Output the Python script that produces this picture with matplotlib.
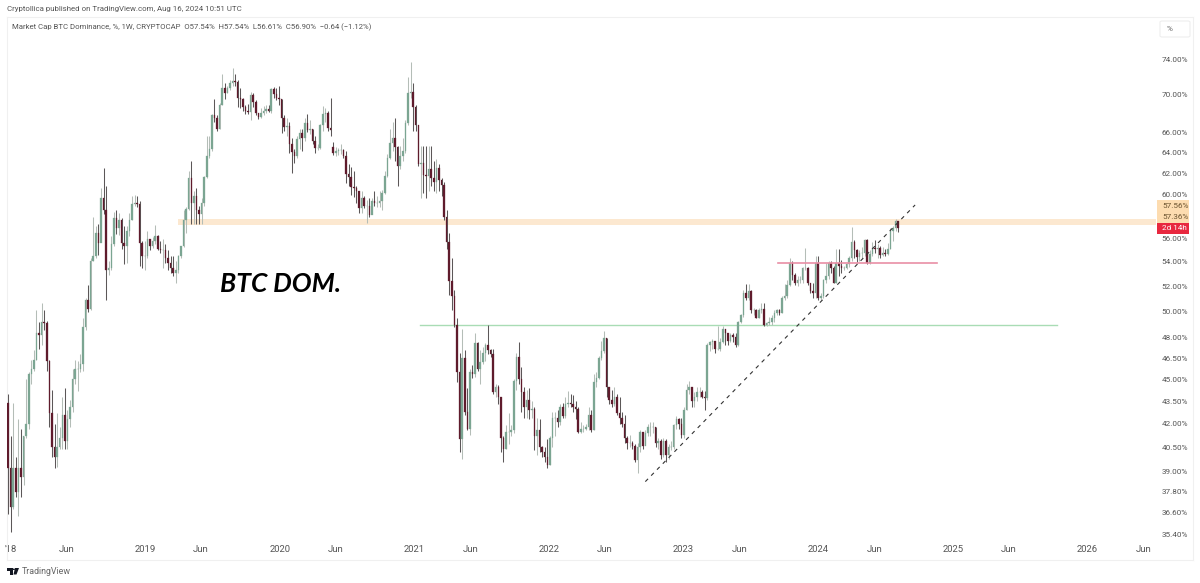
import pandas as pd
import numpy as np
import matplotlib
matplotlib.use('Agg')
import matplotlib.pyplot as plt
import matplotlib.dates as mdates
from matplotlib.patches import Rectangle, FancyBboxPatch, Polygon, Circle
from matplotlib.ticker import FixedLocator, FixedFormatter, NullLocator

# Weekly candles, one value per week from 2017-12-25
first_open = 43.4
gap_opens = {126: 64.6}
closes = [
    39.2, 36.9, 39.2, 37.8, 39.2, 38.7, 41.2, 42.0, 45.4, 45.7,
    46.4, 48.4, 48.2, 49.2, 49.1, 46.3, 42.7, 40.5, 39.9, 40.5,
    41.1, 42.6, 40.9, 42.3, 43.1, 45.0, 45.7, 45.7, 46.1, 48.8,
    50.9, 50.2, 54.1, 54.5, 56.5, 55.6, 59.6, 58.5, 53.3, 53.5,
    55.5, 57.8, 56.9, 57.6, 55.6, 55.4, 56.7, 57.6, 59.1, 59.2,
    59.1, 55.6, 54.5, 54.5, 56.0, 55.4, 55.8, 56.2, 55.1, 55.0,
    55.0, 54.3, 53.9, 53.5, 53.1, 53.3, 54.5, 55.4, 57.6, 58.6,
    61.5, 59.2, 59.8, 58.5, 58.2, 59.2, 61.6, 63.7, 64.4, 67.8,
    67.5, 66.4, 68.9, 70.7, 70.2, 70.7, 71.3, 71.5, 71.4, 69.7,
    69.6, 68.7, 68.3, 68.2, 70.0, 69.2, 68.1, 67.6, 68.1, 68.3,
    68.5, 68.3, 70.6, 70.1, 69.7, 69.5, 67.5, 66.6, 66.7, 64.9,
    64.1, 63.7, 65.4, 66.0, 65.5, 67.0, 66.3, 66.4, 65.2, 64.5,
    64.5, 66.8, 68.0, 68.1, 66.5, 66.3, 64.0, 64.2, 64.3, 64.3,
    63.7, 61.9, 61.6, 60.7, 60.6, 60.3, 58.7, 59.6, 58.9, 58.9,
    58.1, 59.4, 59.2, 59.2, 59.4, 60.1, 61.7, 63.5, 65.0, 65.5,
    64.6, 62.7, 63.7, 64.2, 67.0, 70.2, 70.3, 68.7, 66.8, 62.9,
    63.0, 61.8, 61.7, 62.4, 61.5, 61.1, 62.5, 61.3, 60.9, 57.9,
    55.7, 52.4, 51.2, 49.0, 45.5, 41.0, 46.5, 42.8, 41.7, 45.5,
    45.4, 47.6, 45.7, 46.2, 46.9, 47.5, 47.1, 46.8, 44.1, 44.5,
    43.8, 41.1, 40.4, 41.5, 41.5, 41.6, 44.9, 46.6, 45.0, 44.1,
    43.1, 43.6, 42.9, 43.0, 41.2, 41.6, 40.5, 40.2, 39.9, 39.4,
    41.1, 42.4, 42.4, 42.1, 43.1, 42.5, 43.3, 43.4, 43.3, 43.1,
    43.0, 41.5, 41.7, 41.7, 41.8, 42.6, 41.6, 44.8, 45.1, 46.5,
    47.0, 48.0, 44.5, 43.6, 43.3, 43.8, 42.7, 42.4, 42.0, 41.1,
    40.8, 40.8, 40.6, 39.7, 40.5, 41.5, 40.6, 41.4, 41.8, 41.8,
    41.8, 40.8, 40.9, 40.0, 40.9, 40.0, 40.5, 40.5, 41.9, 42.3,
    42.0, 41.3, 42.9, 44.3, 44.5, 43.5, 43.8, 44.1, 44.1, 43.8,
    43.7, 47.5, 47.7, 47.8, 47.2, 47.2, 47.7, 48.7, 48.4, 47.8,
    48.2, 48.1, 47.5, 49.2, 49.7, 51.5, 51.1, 51.6, 50.1, 50.1,
    49.5, 50.1, 50.2, 49.0, 49.1, 49.2, 49.5, 49.9, 50.1, 49.9,
    51.1, 51.2, 52.1, 53.9, 52.9, 52.3, 52.5, 52.5, 53.5, 53.5,
    52.3, 51.6, 51.5, 53.9, 51.1, 51.2, 52.5, 52.8, 53.9, 53.5,
    52.3, 53.9, 53.7, 53.5, 53.5, 53.8, 54.3, 55.7, 55.0, 54.4,
    54.8, 54.8, 55.9, 53.9, 54.7, 55.2, 55.1, 55.2, 54.6, 54.8,
    54.7, 55.1, 56.7, 56.9, 57.54, 56.90,
]
highs = [
    44.0, 41.2, 43.4, 39.9, 42.3, 41.7, 41.2, 45.0, 45.5, 46.4,
    47.1, 50.1, 49.2, 50.7, 50.1, 49.3, 46.4, 44.3, 42.0, 42.7,
    41.8, 43.8, 44.4, 42.9, 43.6, 45.7, 46.4, 46.3, 46.8, 49.5,
    51.1, 52.1, 54.3, 57.9, 57.1, 57.3, 60.6, 62.5, 60.8, 54.1,
    56.2, 58.4, 58.5, 58.3, 57.8, 57.1, 57.1, 58.3, 59.8, 59.9,
    59.8, 59.4, 55.8, 55.8, 56.7, 56.0, 56.1, 57.2, 56.3, 55.8,
    56.0, 55.5, 55.0, 54.5, 54.5, 54.1, 54.6, 55.4, 58.5, 58.8,
    62.2, 63.2, 60.3, 60.6, 58.9, 59.6, 61.7, 65.7, 65.7, 68.0,
    69.5, 67.8, 69.1, 72.3, 71.3, 71.0, 71.6, 73.0, 72.3, 71.6,
    70.7, 69.7, 68.9, 69.0, 70.3, 70.2, 69.4, 68.1, 68.6, 68.8,
    68.9, 68.9, 70.8, 70.9, 70.8, 71.0, 69.6, 67.8, 67.5, 67.1,
    65.5, 64.4, 65.7, 66.4, 66.4, 67.5, 68.0, 67.3, 66.4, 65.7,
    64.9, 66.9, 68.8, 68.6, 68.3, 69.7, 65.1, 64.6, 64.5, 64.9,
    64.4, 64.2, 62.9, 62.6, 62.2, 60.8, 60.3, 60.3, 59.8, 59.5,
    59.6, 59.6, 60.3, 59.8, 60.3, 60.4, 62.2, 63.9, 66.4, 67.1,
    67.5, 64.7, 64.7, 65.5, 67.3, 72.0, 73.7, 71.3, 68.9, 66.8,
    64.7, 64.7, 64.7, 64.7, 64.7, 63.2, 63.4, 62.9, 61.5, 61.1,
    58.5, 56.5, 54.3, 51.7, 49.5, 46.9, 48.7, 47.1, 44.4, 45.7,
    46.0, 48.4, 47.7, 47.1, 47.3, 47.6, 49.0, 47.2, 47.2, 44.7,
    44.6, 43.8, 41.2, 41.9, 42.7, 41.9, 45.0, 46.9, 47.7, 45.9,
    44.5, 44.3, 44.4, 43.5, 43.1, 42.4, 42.3, 40.6, 40.5, 41.0,
    41.2, 42.8, 42.8, 42.9, 43.3, 43.4, 43.8, 44.2, 44.0, 43.9,
    43.5, 43.1, 42.1, 41.9, 42.0, 43.1, 42.9, 45.4, 45.5, 46.7,
    47.8, 48.5, 48.0, 44.5, 44.3, 44.5, 44.0, 43.8, 42.8, 42.6,
    41.2, 41.3, 40.9, 40.7, 40.8, 41.6, 41.5, 41.6, 42.0, 42.1,
    42.1, 41.8, 41.1, 41.0, 41.1, 41.0, 40.7, 40.9, 42.0, 42.5,
    42.4, 42.4, 43.1, 44.7, 44.9, 44.5, 44.1, 44.5, 44.5, 44.3,
    44.2, 47.6, 47.8, 47.9, 47.8, 48.9, 48.0, 48.9, 48.7, 48.4,
    48.4, 48.4, 48.4, 49.3, 49.8, 51.7, 52.2, 52.2, 51.7, 50.3,
    50.2, 50.3, 50.7, 50.7, 49.2, 49.6, 49.7, 50.1, 50.2, 50.2,
    51.2, 52.2, 52.5, 54.3, 54.1, 53.1, 52.8, 52.8, 53.6, 55.2,
    53.6, 52.3, 52.3, 54.5, 54.5, 51.5, 52.6, 53.9, 54.1, 54.1,
    53.7, 55.1, 55.1, 54.2, 53.7, 53.9, 54.5, 57.0, 55.9, 55.1,
    55.0, 55.3, 56.0, 56.0, 55.0, 55.7, 55.9, 55.5, 55.4, 55.3,
    55.1, 55.6, 56.9, 57.1, 57.7, 57.54,
]
lows = [
    36.5, 35.5, 36.8, 37.5, 36.4, 37.5, 38.2, 41.1, 41.7, 44.7,
    45.6, 46.4, 47.2, 47.5, 48.6, 45.6, 41.8, 39.9, 39.2, 39.3,
    40.4, 40.4, 40.4, 40.4, 41.8, 42.8, 44.7, 44.2, 45.5, 45.6,
    48.6, 50.0, 50.1, 54.1, 54.3, 54.6, 57.3, 58.2, 50.9, 52.9,
    53.3, 55.4, 56.4, 56.3, 55.1, 53.8, 53.9, 56.2, 57.6, 58.9,
    58.8, 53.7, 53.5, 53.3, 54.3, 55.0, 55.2, 55.5, 55.0, 54.8,
    53.5, 53.9, 53.3, 53.1, 52.8, 52.3, 53.1, 54.3, 55.3, 56.5,
    58.5, 57.3, 57.3, 57.3, 57.3, 57.3, 58.9, 61.5, 63.5, 64.2,
    67.1, 66.2, 66.4, 68.9, 69.6, 70.2, 70.5, 71.0, 71.0, 68.7,
    68.6, 68.3, 68.0, 67.9, 67.3, 68.7, 67.8, 67.4, 67.5, 67.8,
    68.1, 68.2, 68.1, 69.7, 69.4, 68.9, 66.0, 66.2, 65.7, 64.0,
    62.0, 63.0, 63.5, 64.4, 64.2, 65.2, 66.1, 65.9, 64.9, 64.0,
    64.3, 64.4, 66.2, 67.1, 66.2, 65.7, 63.8, 63.7, 63.8, 63.9,
    63.5, 61.0, 60.8, 59.9, 59.7, 59.2, 58.3, 58.3, 58.7, 57.4,
    57.9, 58.8, 58.9, 58.8, 58.8, 58.5, 60.0, 61.6, 63.4, 64.2,
    63.2, 60.8, 62.4, 63.2, 64.0, 66.8, 69.7, 66.2, 66.2, 62.7,
    59.6, 60.1, 59.6, 60.3, 60.8, 60.3, 60.1, 60.3, 59.8, 57.6,
    55.1, 51.3, 50.1, 48.8, 44.8, 40.2, 39.8, 42.6, 41.6, 41.3,
    45.1, 45.2, 45.6, 44.7, 46.1, 46.3, 46.8, 46.6, 44.0, 43.8,
    43.3, 40.2, 39.6, 40.4, 40.7, 41.2, 41.4, 44.3, 44.7, 42.8,
    42.4, 42.4, 42.3, 42.4, 40.3, 40.0, 40.2, 39.9, 39.6, 39.2,
    39.4, 40.5, 41.2, 41.8, 41.9, 42.4, 42.4, 43.1, 43.1, 42.8,
    42.3, 41.4, 41.4, 41.5, 41.6, 41.6, 41.5, 41.6, 44.5, 45.0,
    46.4, 46.9, 43.8, 43.3, 43.1, 43.2, 42.6, 42.0, 41.8, 40.8,
    40.4, 40.5, 40.4, 39.6, 38.9, 40.2, 40.4, 40.7, 41.2, 41.2,
    41.4, 40.5, 40.4, 39.8, 39.9, 39.6, 39.8, 40.3, 40.4, 41.7,
    41.7, 41.1, 41.1, 42.9, 44.0, 43.1, 43.1, 43.5, 43.8, 43.7,
    42.9, 43.6, 47.0, 47.2, 46.9, 47.1, 47.0, 47.6, 47.5, 47.5,
    47.7, 47.7, 47.3, 47.4, 49.1, 49.6, 50.9, 50.9, 49.9, 49.7,
    49.5, 49.5, 49.9, 48.9, 48.9, 49.0, 49.0, 49.2, 49.7, 49.7,
    49.9, 50.9, 51.1, 52.0, 52.5, 52.1, 52.0, 52.3, 52.3, 53.3,
    52.1, 51.5, 51.1, 51.1, 50.9, 50.9, 51.1, 52.3, 52.6, 53.1,
    52.3, 52.3, 52.8, 53.1, 53.3, 53.4, 53.6, 54.1, 54.3, 54.0,
    54.1, 54.3, 54.5, 53.8, 53.8, 54.5, 54.8, 54.3, 54.3, 54.5,
    54.5, 54.6, 55.1, 55.8, 56.7, 56.61,
]

price_ticks = [74, 70, 66, 64, 62, 60, 56, 54, 52, 50, 48, 46.5, 45, 43.5, 42, 40.5, 39, 37.8, 36.6, 35.4]
time_tick_dates = ['2018-01-01', '2018-06-01', '2019-01-01', '2019-06-01', '2020-01-01', '2020-06-01',
                   '2021-01-01', '2021-06-01', '2022-01-01', '2022-06-01', '2023-01-01', '2023-06-01',
                   '2024-01-01', '2024-06-01', '2025-01-01', '2025-06-01', '2026-01-01', '2026-06-01']
time_tick_labels = ["'18", 'Jun', '2019', 'Jun', '2020', 'Jun', '2021', 'Jun', '2022', 'Jun',
                    '2023', 'Jun', '2024', 'Jun', '2025', 'Jun', '2026', 'Jun']

plt.rcParams['font.family'] = ['Roboto', 'DejaVu Sans']

W, H = 1200, 583
fig = plt.figure(figsize=(W / 100, H / 100), dpi=100, facecolor='white')

def fx(x):
    return x / W

def fy(y):
    return 1 - y / H

ax = fig.add_axes([fx(7), fy(560), (1193 - 7) / W, (560 - 17) / H])
ax.set_yscale('log')

dates = mdates.date2num(pd.date_range('2017-12-25', periods=len(closes), freq='7D'))
opens = [first_open] + closes[:-1]
for idx, val in gap_opens.items():
    opens[idx] = val
opens = np.array(opens)
closes = np.array(closes)
highs = np.array(highs)
lows = np.array(lows)
up = closes >= opens

# Wicks first, bodies on top
ax.vlines(dates[up], lows[up], highs[up], color='#b4bdb7', lw=0.75, zorder=3)
ax.vlines(dates[~up], lows[~up], highs[~up], color='#5c5758', lw=0.75, zorder=3)
body_bottom = np.minimum(opens, closes)
body_height = np.abs(closes - opens)
ax.bar(dates[up], body_height[up], bottom=body_bottom[up], width=4.2, color='#7ba592',
       edgecolor='#7ba592', lw=0.2, zorder=4)
ax.bar(dates[~up], body_height[~up], bottom=body_bottom[~up], width=4.2, color='#5f1b2c',
       edgecolor='#5f1b2c', lw=0.2, zorder=4)

# Drawings on the chart
d = mdates.datestr2num
ax.add_patch(Rectangle((d('2019-03-31'), 57.2), d('2026-07-06') - d('2019-03-31'), 0.5,
                       facecolor='#fce8d0', edgecolor='none', zorder=2))
ax.plot([d('2021-01-16'), d('2025-10-10')], [49.0, 49.0], color='#a9dcb5', lw=1.0, zorder=2)
ax.plot([d('2023-09-13'), d('2024-11-19')], [53.95, 53.95], color='#e98fa5', lw=1.2, zorder=5)
ax.plot([d('2022-09-19'), d('2024-09-20')], [38.4, 59.0], color='#333333', lw=0.8,
        dashes=(3.5, 4), zorder=5)

ax.set_xlim(d('2017-12-22'), d('2026-10-14'))
ax.set_ylim(34.0, 78.99)

ax.xaxis.set_major_locator(FixedLocator([d(t) for t in time_tick_dates]))
ax.xaxis.set_major_formatter(FixedFormatter(time_tick_labels))
ax.xaxis.set_minor_locator(NullLocator())
ax.yaxis.tick_right()
ax.yaxis.set_major_locator(FixedLocator(price_ticks))
ax.yaxis.set_major_formatter(FixedFormatter([f'{p:.2f}%' for p in price_ticks]))
ax.yaxis.set_minor_locator(NullLocator())
ax.tick_params(axis='x', length=0, pad=-10.5, labelsize=6.8, labelcolor='#555555')
ax.tick_params(axis='y', length=0, pad=-22.5, labelsize=5.9, labelcolor='#555555')
for side in ax.spines:
    ax.spines[side].set_color('#f0f0f0')
    ax.spines[side].set_linewidth(0.8)

# Header, footer and watermark text
fig.text(fx(7), fy(9.5), 'Cryptollica published on TradingView.com, Aug 16, 2024 10:51 UTC',
         fontsize=5.7, color='#555555', va='center')
fig.text(fx(12), fy(27.5),
         'Market Cap BTC Dominance, %, 1W, CRYPTOCAP  O57.54%  H57.54%  L56.61%  C56.90%  \u22120.64 (\u22121.12%)',
         fontsize=5.55, color='#555555', va='center')
fig.text(fx(22), fy(571), 'TradingView', fontsize=6.4, color='#666666', va='center')
fig.text(fx(220), fy(284.5), 'BTC DOM.', fontsize=19, fontweight='bold', style='italic',
         family=['Lato', 'DejaVu Sans'], color='black', va='center')

# Price scale tags
fig.patches.append(FancyBboxPatch((fx(1160), fy(37)), fx(30), 16 / H, boxstyle='round,pad=0,rounding_size=0.002',
                                  transform=fig.transFigure, facecolor='white', edgecolor='#eeeeee', lw=0.8))
fig.text(fx(1167), fy(29), '%', fontsize=5.9, color='#666666', va='center')
fig.patches.append(Rectangle((fx(1157), fy(223)), fx(32), 23 / H, transform=fig.transFigure,
                             facecolor='#fddcb0', edgecolor='none', zorder=5))
fig.patches.append(Rectangle((fx(1157), fy(233.5)), fx(32), 10.5 / H, transform=fig.transFigure,
                             facecolor='#e8283f', edgecolor='none', zorder=5))
fig.text(fx(1162), fy(205.5), '57.56%', fontsize=5.9, color='#6b5330', va='center', zorder=6)
fig.text(fx(1162), fy(217), '57.36%', fontsize=5.9, color='#6b5330', va='center', zorder=6)
fig.text(fx(1162), fy(228), '2d 14h', fontsize=5.9, color='white', va='center', zorder=6)

# TradingView logo mark
logo = [
    Polygon([(fx(7), fy(568)), (fx(12.5), fy(568)), (fx(12.5), fy(574.5)), (fx(10), fy(574.5)),
             (fx(10), fy(571)), (fx(7), fy(571))], closed=True),
    Circle((fx(13.6), fy(569.3)), 0.0012),
    Polygon([(fx(15), fy(568)), (fx(19), fy(568)), (fx(16.5), fy(574.5)), (fx(13.5), fy(574.5))], closed=True),
]
for shape in logo:
    shape.set_transform(fig.transFigure)
    shape.set_facecolor('#131722')
    shape.set_edgecolor('none')
    fig.patches.append(shape)

fig.savefig('out.png', dpi=100, facecolor='white')
